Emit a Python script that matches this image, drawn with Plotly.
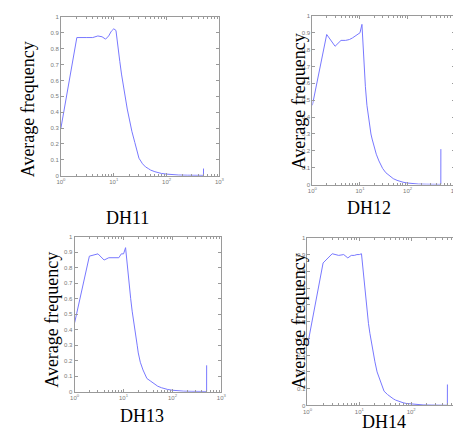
import plotly.graph_objects as go

# ---- data ----
x_common = [1, 2, 3, 4, 5, 6, 7, 8, 9, 10, 11, 12, 13, 14, 15, 16, 17, 18, 19, 20,
            22, 25, 28, 30, 35, 40, 45, 50, 60, 70, 80, 100, 130, 170, 250, 350, 499, 500]

y_dh11 = [0.30, 0.87, 0.87, 0.87, 0.88, 0.875, 0.86, 0.88, 0.91, 0.925, 0.915, 0.80, 0.72, 0.64,
          0.57, 0.52, 0.47, 0.42, 0.38, 0.34, 0.28, 0.21, 0.15, 0.11, 0.075, 0.055, 0.045,
          0.035, 0.025, 0.018, 0.014, 0.010, 0.006, 0.004, 0.003, 0.002, 0.002, 0.045]
y_dh12 = [0.47, 0.89, 0.82, 0.855, 0.855, 0.86, 0.87, 0.88, 0.89, 0.90, 0.95, 0.72, 0.58, 0.47,
          0.41, 0.34, 0.30, 0.27, 0.245, 0.22, 0.18, 0.14, 0.11, 0.095, 0.07, 0.055, 0.042,
          0.035, 0.025, 0.018, 0.014, 0.009, 0.005, 0.003, 0.002, 0.001, 0.001, 0.21]
y_dh13 = [0.445, 0.875, 0.89, 0.85, 0.865, 0.865, 0.865, 0.865, 0.89, 0.89, 0.93, 0.80, 0.70, 0.60,
          0.52, 0.45, 0.40, 0.34, 0.30, 0.25, 0.19, 0.14, 0.11, 0.085, 0.07, 0.055, 0.045,
          0.035, 0.025, 0.018, 0.014, 0.009, 0.005, 0.003, 0.002, 0.001, 0.001, 0.17]
y_dh14 = [0.357, 0.85, 0.905, 0.895, 0.90, 0.88, 0.895, 0.895, 0.90, 0.90, 0.905, 0.78, 0.66, 0.56,
          0.49, 0.43, 0.38, 0.33, 0.30, 0.26, 0.20, 0.15, 0.10, 0.085, 0.065, 0.05, 0.04,
          0.032, 0.022, 0.016, 0.012, 0.008, 0.005, 0.003, 0.002, 0.001, 0.001, 0.125]

panel_titles = ["DH11", "DH12", "DH13", "DH14"]
y_label = "Average frequency"
x_major = [1, 10, 100, 1000]
x_major_text = ["10<sup>0</sup>", "10<sup>1</sup>", "10<sup>2</sup>", "10<sup>3</sup>"]
x_minor = [m * d for d in (1, 10, 100) for m in range(2, 10)]
y_ticks = [0, 0.1, 0.2, 0.3, 0.4, 0.5, 0.6, 0.7, 0.8, 0.9, 1]
y_ticktext = ["0", "0.1", "0.2", "0.3", "0.4", "0.5", "0.6", "0.7", "0.8", "0.9", "1"]

series = [y_dh11, y_dh12, y_dh13, y_dh14]

# ---- layout geometry (paper coords) ----
W, H = 461, 432
boxes = [  # left, right, top, bottom in pixels
    (49, 211, 6, 167),
    (306, 452, 5, 176),
    (63, 213, 229, 386),
    (301, 460, 230, 400),
]
title_pos = [(117, 210), (364, 200), (132, 411), (379, 417)]
ylab_pos = [(15, 100), (292, 92), (40, 313), (292, 315)]

LINE = "#7878ff"
AX = "#9a9a9a"
TXT = "#7a7a7a"

fig = go.Figure()
layout = dict(width=W, height=H, margin=dict(l=0, r=0, t=0, b=0),
              paper_bgcolor="white", plot_bgcolor="white", showlegend=False)
annotations = []

for i, (ys, (l, r, t, b)) in enumerate(zip(series, boxes)):
    n = "" if i == 0 else str(i + 1)
    fig.add_trace(go.Scatter(x=x_common, y=ys, mode="lines",
                             line=dict(color=LINE, width=1),
                             xaxis="x" + n, yaxis="y" + n, hoverinfo="skip"))
    layout["xaxis" + n] = dict(
        type="log", range=[0, 3], domain=[l / W, r / W], anchor="y" + n,
        tickmode="array", tickvals=x_major, ticktext=x_major_text,
        ticks="inside", ticklen=3, tickcolor=AX, tickwidth=1,
        minor=dict(tickmode="array", tickvals=x_minor, ticks="inside", ticklen=2,
                   tickcolor=AX, showgrid=False),
        showline=True, linecolor=AX, linewidth=1, mirror="allticks",
        showgrid=False, zeroline=False,
        tickfont=dict(family="Liberation Sans", size=6, color=TXT))
    layout["yaxis" + n] = dict(
        range=[0, 1], domain=[1 - b / H, 1 - t / H], anchor="x" + n,
        tickmode="array", tickvals=y_ticks, ticktext=y_ticktext,
        ticks="inside", ticklen=3, tickcolor=AX, tickwidth=1,
        showline=True, linecolor=AX, linewidth=1, mirror="allticks",
        showgrid=False, zeroline=False,
        tickfont=dict(family="Liberation Sans", size=6, color=TXT))
    tx, ty = title_pos[i]
    annotations.append(dict(text=panel_titles[i], x=tx / W, y=1 - ty / H,
                            xref="paper", yref="paper", showarrow=False,
                            xanchor="center", yanchor="middle",
                            font=dict(family="Liberation Serif", size=18, color="black")))
    lx, ly = ylab_pos[i]
    annotations.append(dict(text=y_label, x=lx / W, y=1 - ly / H,
                            xref="paper", yref="paper", showarrow=False, textangle=-90,
                            xanchor="center", yanchor="middle",
                            font=dict(family="Liberation Serif", size=18, color="black")))

layout["annotations"] = annotations
fig.update_layout(**layout)
fig.write_html("out.html")
